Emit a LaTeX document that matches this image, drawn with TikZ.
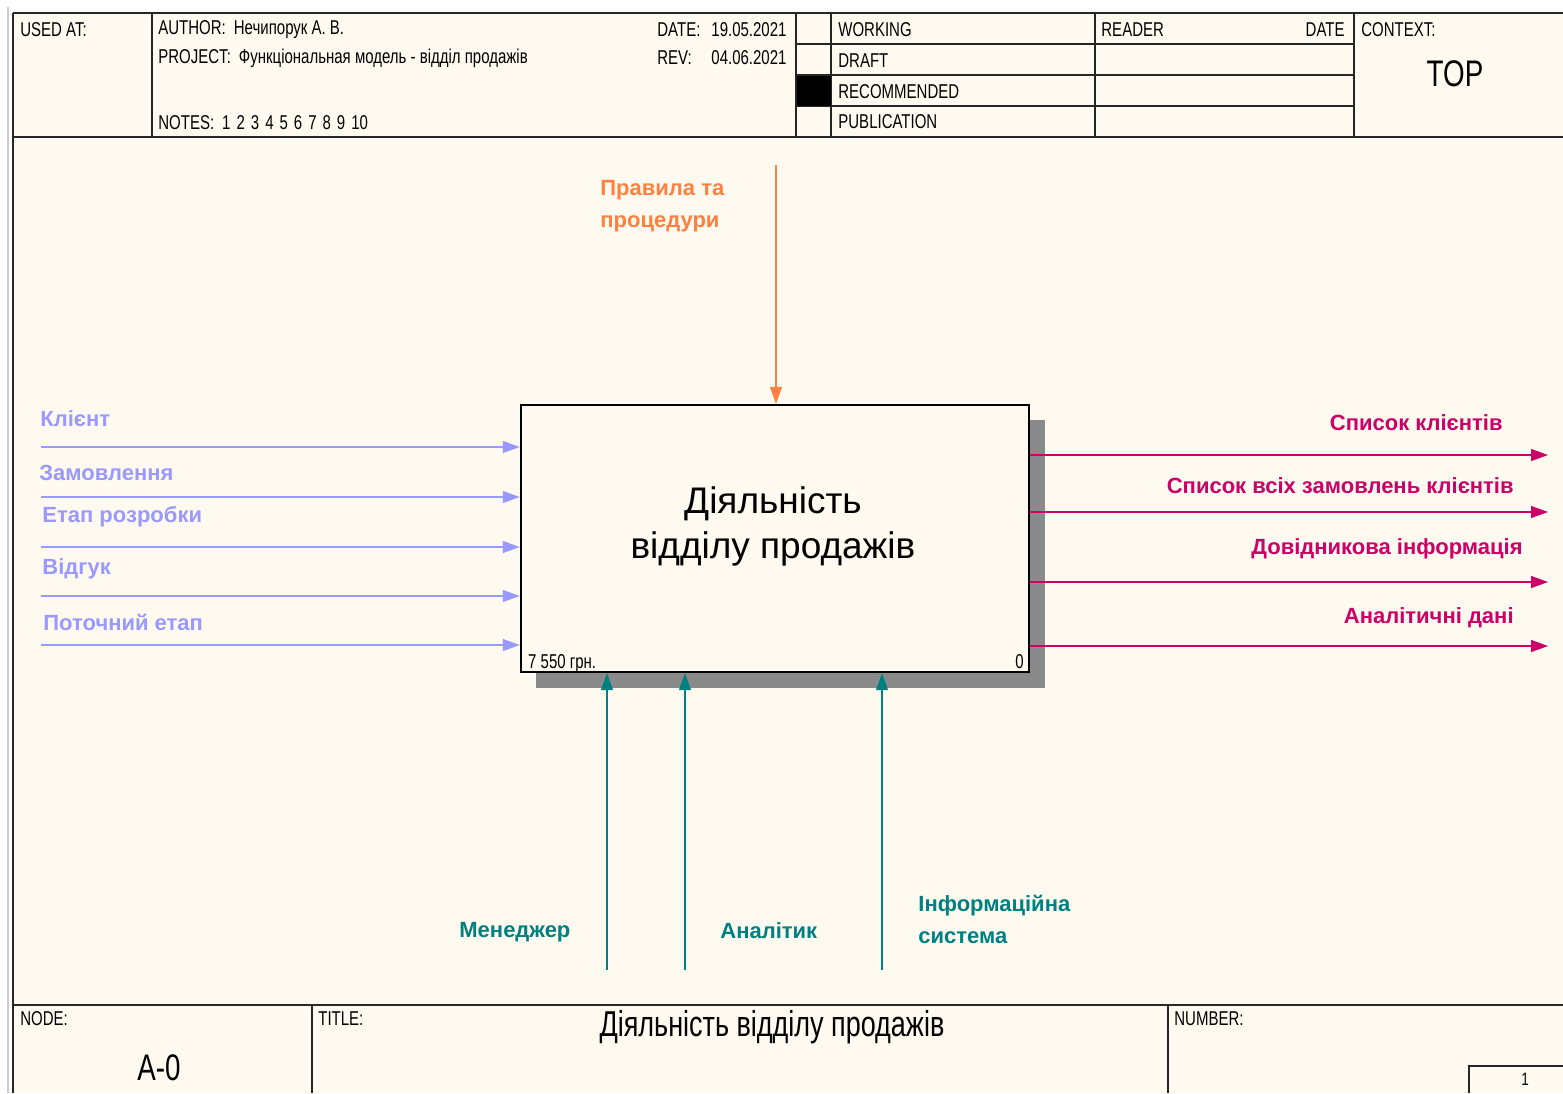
\documentclass[tikz,border=0pt]{standalone}
\usepackage{fontspec}
\setmainfont{Liberation Sans}
\newfontfamily\narrowfont[FakeStretch=0.75]{Liberation Sans}
\usetikzlibrary{arrows.meta,positioning}
\definecolor{paper}{HTML}{FFFAF0}
\definecolor{inputc}{HTML}{9999FF}
\definecolor{ctrlc}{HTML}{FF8040}
\definecolor{mechc}{HTML}{008080}
\definecolor{outc}{HTML}{CC0066}
\definecolor{shadowc}{HTML}{8A8A8A}

\begin{document}
\begin{tikzpicture}[x=0.5pt,y=-0.5pt,
 hdr/.style={font=\narrowfont\fontsize{10}{12}\selectfont,anchor=west,inner sep=0pt},
 big/.style={font=\narrowfont\fontsize{18.5}{22}\selectfont,inner sep=0pt},
 lbl/.style={font=\bfseries\fontsize{11}{16}\selectfont,inner sep=0pt,align=left},
 flow/.style={line width=0.6pt,-{Triangle[length=8.5pt,width=6pt]}},
 frame/.style={line width=0.6pt,draw=black!85},
 actbox/.style={draw,line width=1.2pt,fill=paper,minimum width=254pt,minimum height=133.5pt,inner sep=0pt}]
\useasboundingbox (0,0) rectangle (1563,1093);
\fill[white] (0,0) rectangle (1563,1093);
\fill[paper] (13,13) rectangle (1563,1093);
\draw[gray!40,line width=1pt] (8,7)--(8,1093);

% header
\draw[frame] (13,13)--(1563,13);
\draw[frame,line width=1pt] (13,137)--(1563,137);
\draw[frame] (152,13)--(152,137) (796,13)--(796,137) (831,13)--(831,137)
 (1095,13)--(1095,137) (1354,13)--(1354,137);
\draw[frame] (796,44)--(1354,44) (796,75)--(1354,75) (796,106)--(1354,106);
\fill (797,76) rectangle (831,106);
\node[hdr] (usedat) at (20,30) {USED AT:};
\node[hdr] (author) at (158,30) {AUTHOR:\hspace{4pt}Нечипорук А. В.};
\node[hdr] (project) at (158,58) {PROJECT:\hspace{4pt}Функціональная модель - відділ продажів};
\node[hdr] (notes) at (158,123) {NOTES:\hspace{4pt}1\hspace{3pt}2\hspace{3pt}3\hspace{3pt}4\hspace{3pt}5\hspace{3pt}6\hspace{3pt}7\hspace{3pt}8\hspace{3pt}9\hspace{3pt}10};
\node[hdr] (datelbl) at (657,30) {DATE:};
\node[hdr] (dateval) at (711,30) {19.05.2021};
\node[hdr] (revlbl) at (657,58) {REV:};
\node[hdr] (revval) at (711,58) {04.06.2021};
\node[hdr] (working) at (838,30) {WORKING};
\node[hdr] (draft) at (838,61) {DRAFT};
\node[hdr] (recommended) at (838,92) {RECOMMENDED};
\node[hdr] (publication) at (838,122) {PUBLICATION};
\node[hdr] (reader) at (1101,30) {READER};
\node[hdr,anchor=east] (rdate) at (1345,30) {DATE};
\node[hdr] (context) at (1361,30) {CONTEXT:};
\node[big] (top) at (1455,74) {TOP};

% footer
\draw[frame] (13,1005)--(1563,1005);
\draw[frame] (312,1005)--(312,1093) (1168,1005)--(1168,1093);
\draw[frame] (1469,1093)--(1469,1066)--(1563,1066);
\draw[black!85,line width=1.2pt] (13,13)--(13,1093);
\node[hdr] (nodelbl) at (20,1019) {NODE:};
\node[big] (nodeval) at (159,1068) {A-0};
\node[hdr] (titlelbl) at (318,1019) {TITLE:};
\node[big,font=\narrowfont\fontsize{18}{22}\selectfont] (titleval) at (772,1027) {Діяльність відділу продажів};
\node[hdr] (numlbl) at (1174,1019) {NUMBER:};
\node[hdr,anchor=center,font=\narrowfont\fontsize{9}{11}\selectfont] (numval) at (1525,1079) {1};

% activity
\fill[shadowc] (536,420) rectangle (1045,688);
\node[actbox] (act) at (775,538.5) {};
\node[align=center,font=\fontsize{18.5}{22.5}\selectfont] (acttitle) at (773,526) {Діяльність\\відділу продажів};
\node[hdr,anchor=base west] (cost) at ([shift={(8,-5)}]act.south west) {7 550 грн.};
\node[hdr,anchor=base east] (actnum) at ([shift={(-6,-5)}]act.south east) {0};

% inputs
\foreach \y/\nm in {447/inA,497/inB,547/inC,596/inD,645/inE}{
 \coordinate (\nm) at (41,\y);
 \draw[flow,inputc] (\nm) -- (\nm -| act.west);
}
\node[lbl,inputc,anchor=west] (lklient) at (40,419) {Клієнт};
\node[lbl,inputc,anchor=west] (lzamov) at (39,473) {Замовлення};
\node[lbl,inputc,anchor=west] (letap) at (42,517) {Етап розробки};
\node[lbl,inputc,anchor=west] (lvidguk) at (42,569) {Відгук};
\node[lbl,inputc,anchor=west] (lpotoch) at (43,622) {Поточний етап};

% control
\coordinate (ctl) at (776,165);
\draw[flow,ctrlc] (ctl) -- (ctl |- act.north);
\node[lbl,ctrlc,anchor=west] (lprav) at (600,206) {Правила та\\процедури};

% mechanisms
\foreach \x/\nm in {607/mA,685/mB,882/mC}{
 \coordinate (\nm) at (\x,970);
 \draw[flow,mechc] (\nm) -- (\nm |- act.south);
}
\node[lbl,mechc,anchor=west] (lmened) at (459,932) {Менеджер};
\node[lbl,mechc,anchor=west] (lanal) at (720,931) {Аналітик};
\node[lbl,mechc,anchor=west] (linfo) at (918,919) {Інформаційна\\система};

% outputs
\foreach \y/\nm in {455/outA,512/outB,582/outC,646/outD}{
 \coordinate (\nm) at (1548,\y);
 \draw[flow,outc] (\nm -| act.east) -- (\nm);
}
\node[lbl,outc,anchor=east] (lspys) at (1503,423) {Список клієнтів};
\node[lbl,outc,anchor=east] (lzakaz) at (1514,486) {Список всіх замовлень клієнтів};
\node[lbl,outc,anchor=east] (ldovid) at (1523,549) {Довідникова інформація};
\node[lbl,outc,anchor=east] (lanaldan) at (1514,618) {Аналітичні дані};
\end{tikzpicture}
\end{document}
